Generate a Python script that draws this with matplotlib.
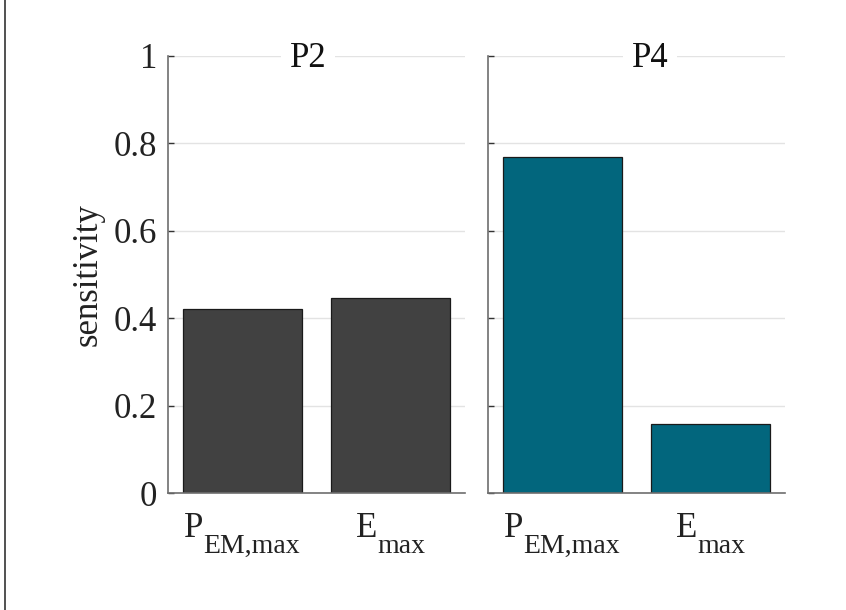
import matplotlib
matplotlib.use('Agg')
import matplotlib.pyplot as plt
import matplotlib.transforms as mtransforms
from matplotlib.lines import Line2D

plt.rcParams['font.family'] = 'Liberation Serif'

# Data ---------------------------------------------------------------
panels = ['P2', 'P4']
cat_main = ['P', 'E']
cat_sub = ['EM,max', 'max']
values_p2 = [0.422, 0.446]
values_p4 = [0.768, 0.157]
colors = ['#414141', '#02667d']
yticks = [0, 0.2, 0.4, 0.6, 0.8, 1]
ytick_labels = ['0', '0.2', '0.4', '0.6', '0.8', '1']

# Plot ---------------------------------------------------------------
fig = plt.figure(figsize=(8.46, 6.10), dpi=100)
ax1 = fig.add_axes([168/846, 1-493/610, 297/846, 437/610])
ax2 = fig.add_axes([488/846, 1-493/610, 297/846, 437/610])
renderer = fig.canvas.get_renderer()

x = [1, 2]
title_x = [0.471, 0.545]   # titles are not quite centred in the reference
for ax, name, tx, vals, col in zip([ax1, ax2], panels, title_x, [values_p2, values_p4], colors):
    ax.bar(x, vals, width=0.8, color=col, edgecolor='#1a1a1a', linewidth=0.9, zorder=2)
    ax.set_xlim(0.5, 2.5)
    ax.set_ylim(0, 1)
    ax.set_yticks(yticks)
    ax.set_xticks([])
    ax.grid(axis='y', color='#e3e3e3', linewidth=1.0, zorder=0)
    ax.tick_params(axis='y', direction='in', length=4, width=1, color='#333333', labelsize=25, labelcolor='#222222', pad=8)
    for s in ['top', 'right']:
        ax.spines[s].set_visible(False)
    for s in ['left', 'bottom']:
        ax.spines[s].set_color('#6e6e6e')
        ax.spines[s].set_linewidth(1.2)
    ax.text(tx, 0.994, name, transform=ax.transAxes, ha='center', va='center', fontsize=25,
            color='#111111', bbox=dict(facecolor='white', edgecolor='none', pad=6), zorder=5)

    # category labels with low subscripts (main text + subscript text)
    base = mtransforms.blended_transform_factory(ax.transData, ax.transAxes)
    for xi, m, s in zip(x, cat_main, cat_sub):
        t1 = ax.text(xi, 0, m, transform=base, ha='left', va='baseline', fontsize=25, color='#222222')
        t2 = ax.text(xi, 0, s, transform=base, ha='left', va='baseline', fontsize=20, color='#222222')
        w1 = t1.get_window_extent(renderer).width
        w2 = t2.get_window_extent(renderer).width
        x0 = -(w1 + w2) / 2.0
        t1.set_transform(base + mtransforms.ScaledTranslation(x0/100, -44/100, fig.dpi_scale_trans))
        t2.set_transform(base + mtransforms.ScaledTranslation((x0 + w1)/100, -60/100, fig.dpi_scale_trans))

ax1.set_yticklabels(ytick_labels)
ax2.set_yticklabels([])
ax1.set_ylabel('sensitivity', fontsize=25, color='#222222', labelpad=6)

# frame line on left edge
fig.add_artist(Line2D([5/846, 5/846], [0, 1], transform=fig.transFigure, color='#333333', linewidth=1.2))

plt.savefig('out.png', dpi=100)
